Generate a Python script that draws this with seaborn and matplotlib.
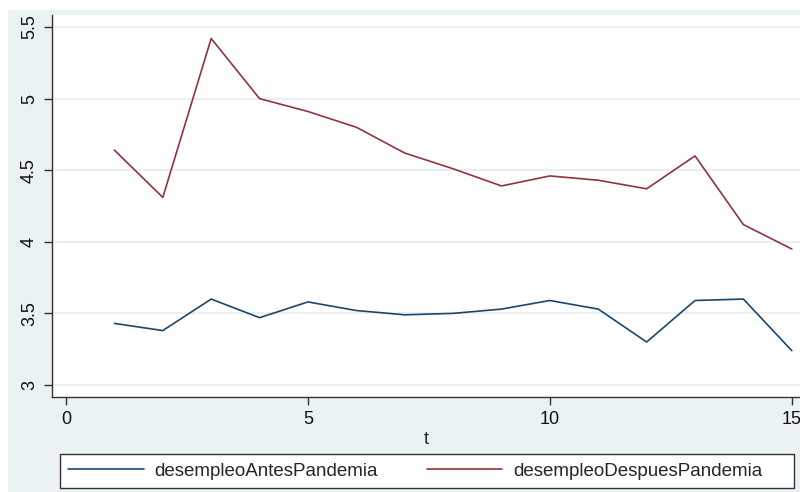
import matplotlib
matplotlib.use("Agg")
import matplotlib.pyplot as plt
from matplotlib.patches import Rectangle
from matplotlib.lines import Line2D
import seaborn as sns
import pandas as pd

t = list(range(1, 16))
antes = [3.43, 3.38, 3.60, 3.47, 3.58, 3.52, 3.49, 3.50, 3.53, 3.59, 3.53, 3.30, 3.59, 3.60, 3.24]
despues = [4.64, 4.31, 5.42, 5.00, 4.91, 4.80, 4.62, 4.51, 4.39, 4.46, 4.43, 4.37, 4.60, 4.12, 3.95]
series_names = ["desempleoAntesPandemia", "desempleoDespuesPandemia"]
xticks = [0, 5, 10, 15]
yticks = [3, 3.5, 4, 4.5, 5, 5.5]
ytick_labels = ["3", "3.5", "4", "4.5", "5", "5.5"]

df = pd.DataFrame({
    "t": t + t,
    "value": antes + despues,
    "serie": [series_names[0]] * len(t) + [series_names[1]] * len(t),
})

sns.set_theme(style="white")
plt.rcParams["font.family"] = ["Liberation Sans", "DejaVu Sans"]

BG = "#EAF2F3"
BLUE, RED = "#1A476F", "#90353B"
W, H = 800, 492
fig = plt.figure(figsize=(8, 4.92), dpi=100)
fig.patch.set_facecolor("white")
fig.add_artist(Rectangle((8 / W, 0), 1 - 8 / W, 1 - 10 / H, transform=fig.transFigure,
                         facecolor=BG, edgecolor="none", zorder=-10))

ax = fig.add_axes([52 / W, (H - 397) / H, 1 - 52 / W, (397 - 15) / H])
ax.set_facecolor("white")

sns.lineplot(data=df, x="t", y="value", hue="serie",
             palette={series_names[0]: BLUE, series_names[1]: RED},
             linewidth=1.2, ax=ax, legend=False)

ax.set_xlim(-0.29, 15.17)
ax.set_ylim(2.916, 5.584)
ax.set_xticks(xticks)
ax.set_yticks(yticks)
ax.set_yticklabels(ytick_labels, rotation=90, va="center")
ax.tick_params(axis="both", direction="out", length=6, width=1, color="#333333",
               labelsize=13, labelcolor="#111111", pad=4, left=True, bottom=True)
ax.grid(axis="y", color="#E6EEEF", linewidth=1.2)
ax.grid(axis="x", visible=False)
for s in ["top", "right"]:
    ax.spines[s].set_visible(False)
for s in ["left", "bottom"]:
    ax.spines[s].set_color("#333333")
    ax.spines[s].set_linewidth(1.0)
ax.set_xlabel("t", fontsize=13, labelpad=2)
ax.set_ylabel("")

# legend frame
fig.add_artist(Rectangle((60 / W, (H - 488) / H), (794 - 60) / W, (488 - 454) / H,
                         transform=fig.transFigure, facecolor="white",
                         edgecolor="#333333", linewidth=1.0, zorder=1))
handles = [Line2D([], [], color=BLUE, lw=1.2), Line2D([], [], color=RED, lw=1.2)]
leg = fig.legend(handles, series_names, loc="center left", ncol=2,
                 bbox_to_anchor=(68 / W, (H - 471) / H),
                 frameon=False, fontsize=13.5, handlelength=4.05,
                 handletextpad=0.55, columnspacing=2.6, borderaxespad=0, borderpad=0)
leg.set_zorder(2)

fig.savefig("out.png", dpi=100, facecolor=fig.get_facecolor())
